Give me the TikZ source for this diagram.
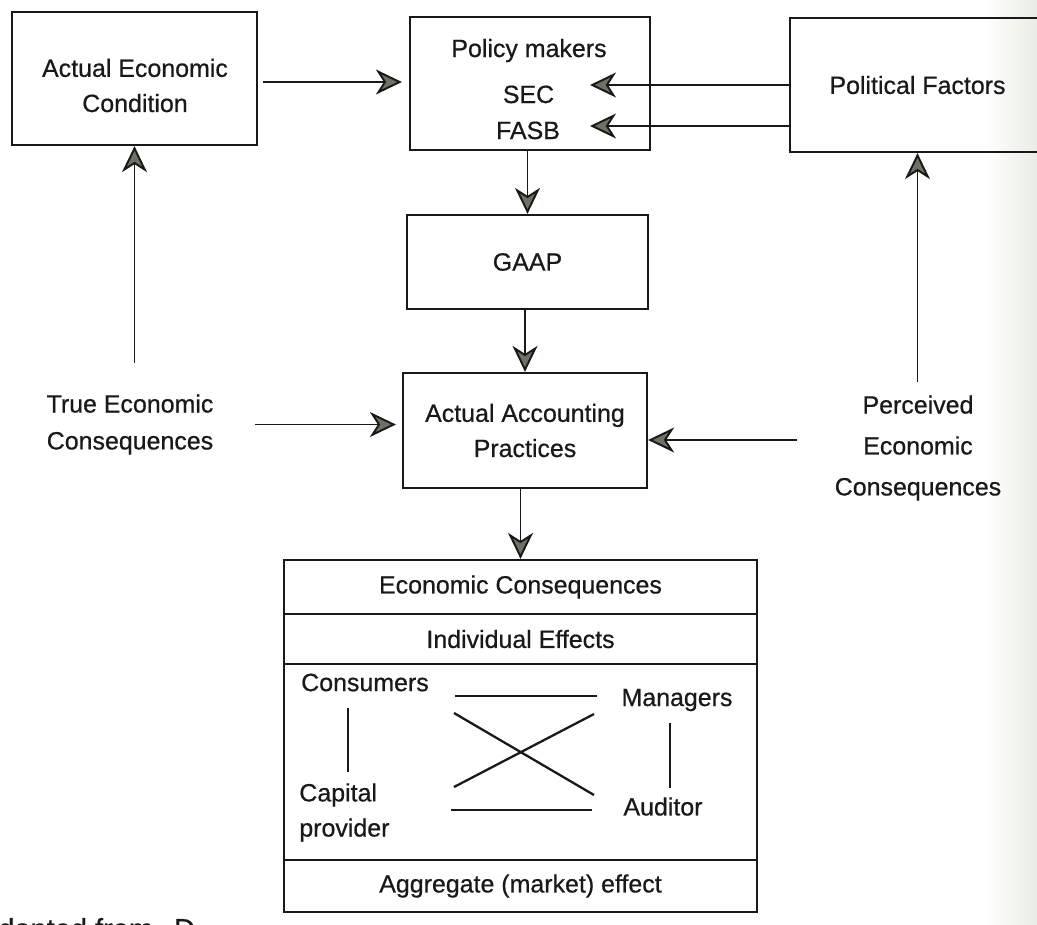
\documentclass[tikz,border=0pt]{standalone}
\usepackage{fontspec}
\setmainfont{Liberation Sans}[FakeBold=0.6]
\usetikzlibrary{arrows.meta}
\definecolor{tipgray}{RGB}{112,112,102}
\definecolor{ink}{RGB}{25,25,25}
\definecolor{paper}{RGB}{234,237,228}
\begin{document}
\begin{tikzpicture}[x=0.02cm,y=-0.02cm,
  every node/.style={inner sep=0pt, text=ink},
  box/.style={draw=ink, line width=1.3pt},
  txt/.style={font=\fontsize{14.2}{20}\selectfont, align=center},
  arr/.style={draw=ink, line width=1.1pt, -{Stealth[length=0.52cm, width=0.5cm, inset=0.16cm, fill=tipgray]}},
  ln/.style={draw=ink, line width=1.3pt}]

\useasboundingbox (0,0) rectangle (1037,924);
\fill[white] (0,0) rectangle (1037,924);
\shade[left color=white, right color=paper] (985,0) rectangle (1037,924);

% top row
\node[box, minimum width=4.9cm, minimum height=2.66cm] (aec) at (134.5,78.5) {};
\node[txt] (aect) at (135,85.5) {Actual Economic\\Condition};

\node[box, minimum width=4.8cm, minimum height=2.66cm] (pol) at (530,83.5) {};
\node[txt, anchor=base] (pm) at (529,57) {Policy makers};
\node[txt, anchor=base] (sec) at (528.5,103) {SEC};
\node[txt, anchor=base] (fasb) at (528,139) {FASB};

\node[box, txt, minimum width=5.1cm, minimum height=2.68cm] (pf) at (917.5,85) {Political Factors};

% middle column
\node[box, txt, minimum width=4.82cm, minimum height=1.88cm] (gaap) at (527.5,262) {GAAP};
\node[box, txt, minimum width=4.88cm, minimum height=2.3cm] (aap) at (525,430.5) {Actual Accounting\\Practices};

\node[txt, font=\fontsize{14.2}{21}\selectfont] (tec) at (130,424.5) {True Economic\\Consequences};
\node[txt, font=\fontsize{14.2}{23.3}\selectfont] (per) at (918,448) {Perceived\\Economic\\Consequences};

% bottom block
\node[box, txt, minimum width=9.46cm, minimum height=1.08cm] (ec) at (520.5,587) {Economic Consequences};
\node[box, txt, minimum width=9.46cm, minimum height=1.0cm] (ie) at (520.5,639) {Individual Effects};
\node[box, minimum width=9.46cm, minimum height=3.92cm] (mid) at (520.5,762) {};
\node[box, txt, minimum width=9.46cm, minimum height=1.04cm] (agg) at (520.5,886) {Aggregate (market) effect};

\node[txt] (cons) at (365,682.5) {Consumers};
\node[txt] (mgr) at (677,700) {Managers};
\node[txt, align=left, anchor=west] (cap) at (299,812.5) {Capital\\provider};
\node[txt] (aud) at (663,806.5) {Auditor};

\node[anchor=base west, font=\fontsize{16.5}{20}\selectfont] (src) at (-2,939) {dapted from\hspace{0.42cm}D};

% connectors
\coordinate (a1) at ([yshift=-0.07cm]aec.east);
\draw[arr, shorten <=0.1cm, shorten >=0.14cm] (a1) -- (a1 -| pol.west);

\coordinate (sectip) at (590,85);
\coordinate (fasbtip) at (590,126);
\draw[arr] (sectip -| pf.west) -- (sectip);
\draw[arr] (fasbtip -| pf.west) -- (fasbtip);

\draw[arr] (gaap.north |- pol.south) -- (gaap.north);
\draw[arr] (aap.north |- gaap.south) -- (aap.north);
\draw[arr] (ec.north |- aap.south) -- (ec.north);

\draw[arr, shorten <=0.62cm] (aec.south |- tec.north) -- (aec.south);
\draw[arr, shorten <=0.27cm] (pf.south |- per.north) -- (pf.south);

\draw[arr, shorten <=0.83cm, shorten >=0.12cm] (tec.east) -- (tec.east -| aap.west);
\coordinate (p1) at ([yshift=0.16cm]per.west);
\draw[arr, shorten <=0.75cm] (p1) -- (p1 -| aap.east);

% relations inside the bottom block
\coordinate (l1a) at (455,696); \coordinate (l1b) at (597,696);
\coordinate (l2a) at (454,713); \coordinate (l2b) at (594,795);
\coordinate (l3a) at (454,787); \coordinate (l3b) at (594,714);
\coordinate (l4a) at (451,810); \coordinate (l4b) at (592,810);
\coordinate (l5a) at (348,708); \coordinate (l5b) at (348,772);
\coordinate (l6a) at (670,723); \coordinate (l6b) at (670,788);
\draw[ln] (l1a) -- (l1b);
\draw[ln] (l2a) -- (l2b);
\draw[ln] (l3a) -- (l3b);
\draw[ln] (l4a) -- (l4b);
\draw[ln] (l5a) -- (l5b);
\draw[ln] (l6a) -- (l6b);
\end{tikzpicture}
\end{document}
